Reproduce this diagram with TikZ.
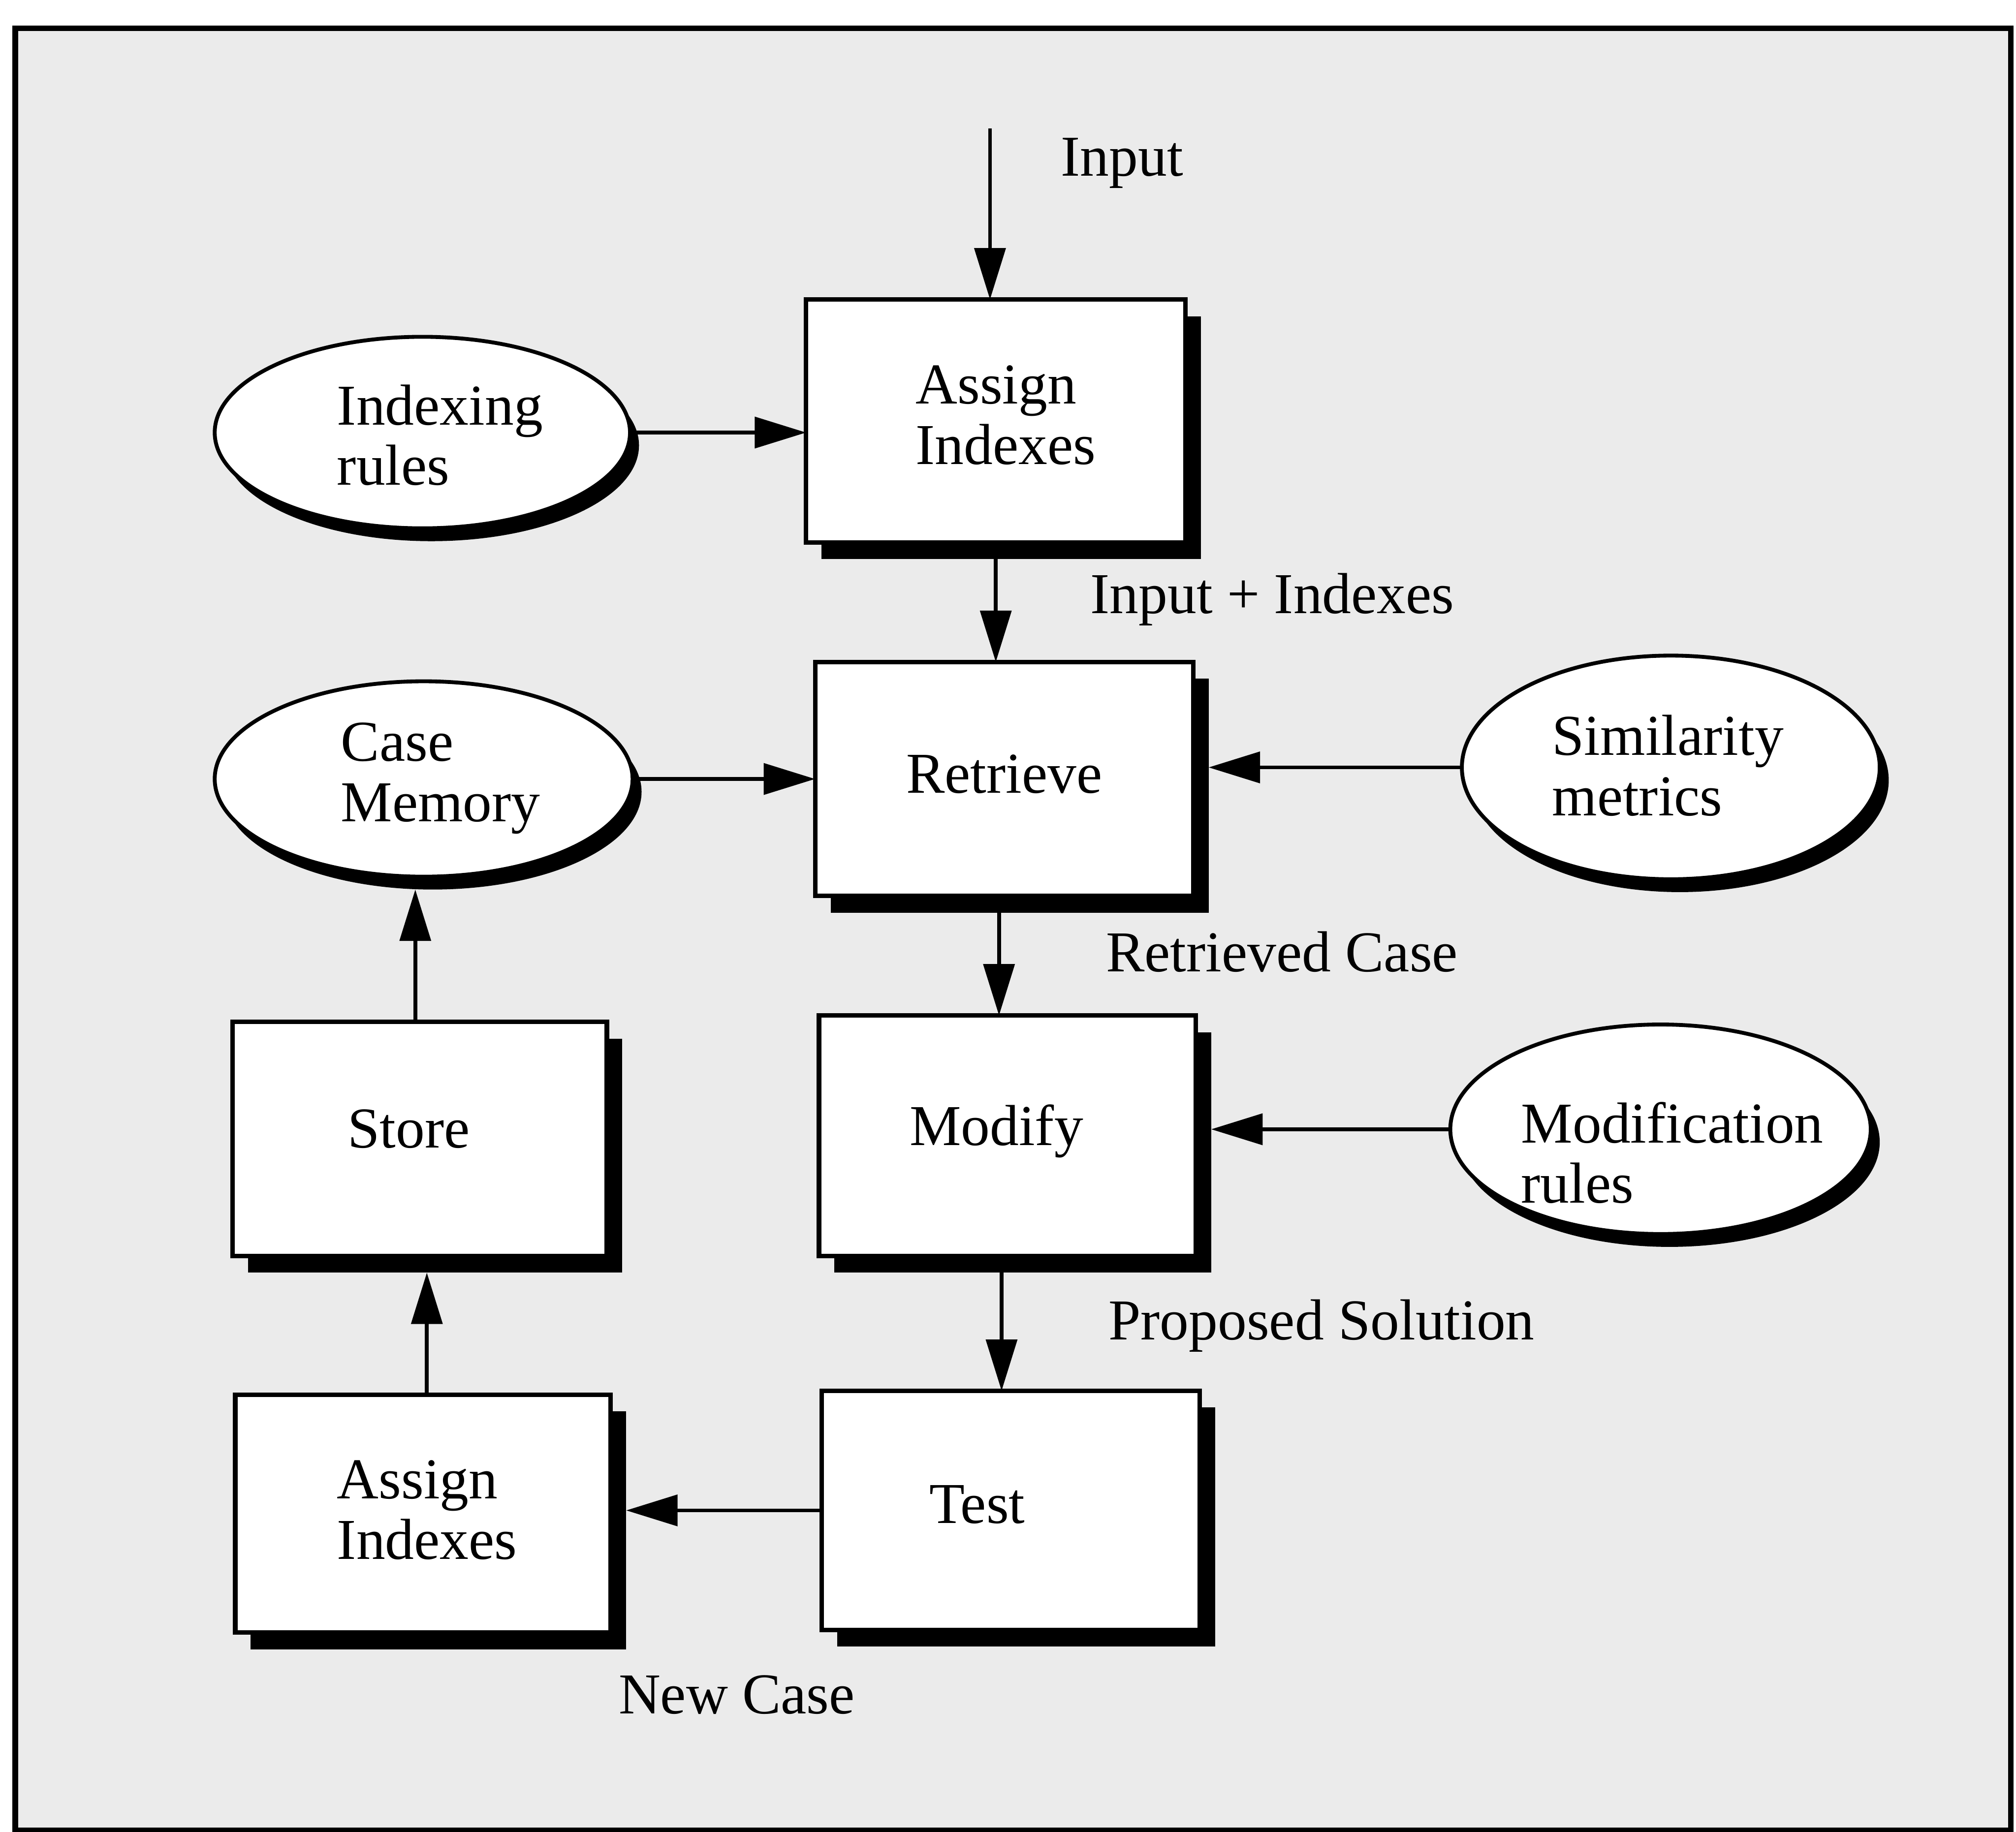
\documentclass[tikz,border=0pt]{standalone}
\usepackage{fontspec}
\setmainfont{Liberation Serif}
\usetikzlibrary{arrows.meta,shapes.geometric,shadows,calc}
\begin{document}
\begin{tikzpicture}[x=1pt,y=-1pt,
  every node/.style={font=\fontsize{45}{47}\selectfont},
  procbox/.style={rectangle, draw, line width=3.5pt, fill=white, inner sep=0pt, outer sep=0pt,
    drop shadow={shadow xshift=12pt, shadow yshift=-13pt, fill=black, opacity=1}},
  kbase/.style={ellipse, draw, line width=3pt, fill=white, inner sep=0pt, outer sep=0pt,
    drop shadow={shadow xshift=7pt, shadow yshift=-10pt, fill=black, opacity=1}},
  flow/.style={line width=3pt, -{Triangle[length=40pt,width=24pt]}},
  txt/.style={inner sep=0pt, align=left, anchor=north west},
  word/.style={inner sep=0pt, anchor=base},
  lbl/.style={inner sep=0pt, anchor=base west}]

% page and dotted panel with its frame
\useasboundingbox (0,0) rectangle (1568,1425);
\fill[white] (0,0) rectangle (1568,1425);
\draw[line width=4.5pt, fill=black!8] (12,22) rectangle (1564,1424);

% process boxes
\node[procbox, minimum width=295pt, minimum height=189pt] (ai1) at (774.5,327.5) {};
\node[procbox, minimum width=294pt, minimum height=182pt] (ret) at (781,606) {};
\node[procbox, minimum width=293pt, minimum height=187pt] (mod) at (783.5,883.5) {};
\node[procbox, minimum width=294pt, minimum height=186pt] (tst) at (786,1175) {};
\node[procbox, minimum width=292pt, minimum height=185pt] (ai2) at (329,1177.5) {};
\node[procbox, minimum width=291pt, minimum height=182pt] (sto) at (326.5,886) {};

% knowledge sources
\node[kbase, minimum width=323pt, minimum height=149pt] (ir) at (328.5,336.5) {};
\node[kbase, minimum width=325pt, minimum height=152pt] (cm) at (329.5,606) {};
\node[kbase, minimum width=325pt, minimum height=174pt] (sim) at (1299.5,597) {};
\node[kbase, minimum width=327pt, minimum height=163pt] (mr) at (1291.5,878.5) {};

% texts inside the shapes
\node[txt] (ai1t) at (712,284) {Assign\\Indexes};
\node[txt] (irt) at (262,299) {Indexing\\rules};
\node[txt] (cmt) at (265,562) {Case\\Memory};
\node[txt] (simt) at (1207,556) {Similarity\\metrics};
\node[txt] (mrt) at (1183,857) {Modification\\rules};
\node[txt] (ai2t) at (262,1136) {Assign\\Indexes};
\node[word] (rett) at (781,617) {Retrieve};
\node[word] (modt) at (775,891) {Modify};
\node[word] (tstt) at (760,1185) {Test};
\node[word] (stot) at (318,893) {Store};

% flow labels
\node[lbl] (lin) at (825,137) {Input};
\node[lbl] (linx) at (848,477) {Input + Indexes};
\node[lbl] (lrc) at (860,756) {Retrieved Case};
\node[lbl] (lps) at (862,1042) {Proposed Solution};
\node[lbl] (lnc) at (481,1333) {New Case};

% helper points on shadow edges and shifted shafts
\coordinate (src) at (770,100);
\coordinate (retR) at ($(ret.east)+(12,0)$);
\coordinate (modR) at ($(mod.east)+(12,0)$);
\coordinate (ai2R) at ($(ai2.east)+(12,0)$);
\coordinate (stoB) at ($(sto.south)+(3,13)$);
\coordinate (cmB) at ($(cm.south)+(-6,10)$);
\coordinate (retS) at ($(ret.south)+(-4,0)$);
\coordinate (modS) at ($(mod.south)+(-4.5,0)$);
\coordinate (ai2N) at ($(ai2.north)+(3,0)$);
\coordinate (stoN) at ($(sto.north)+(-3.5,0)$);

% connectors
\draw[flow] (src) -- (src |- ai1.north);
\draw[flow] (ir.east) -- (ir.east -| ai1.west);
\draw[flow] (ai1.south) -- (ai1.south |- ret.north);
\draw[flow] (cm.east) -- (cm.east -| ret.west);
\draw[flow] (sim.west) -- (sim.west -| retR);
\draw[flow] (retS) -- (retS |- mod.north);
\draw[flow] (mr.west) -- (mr.west -| modR);
\draw[flow] (modS) -- (modS |- tst.north);
\draw[flow] (tst.west) -- (tst.west -| ai2R);
\draw[flow] (ai2N) -- (ai2N |- stoB);
\draw[flow] (stoN) -- (stoN |- cmB);
\end{tikzpicture}
\end{document}
